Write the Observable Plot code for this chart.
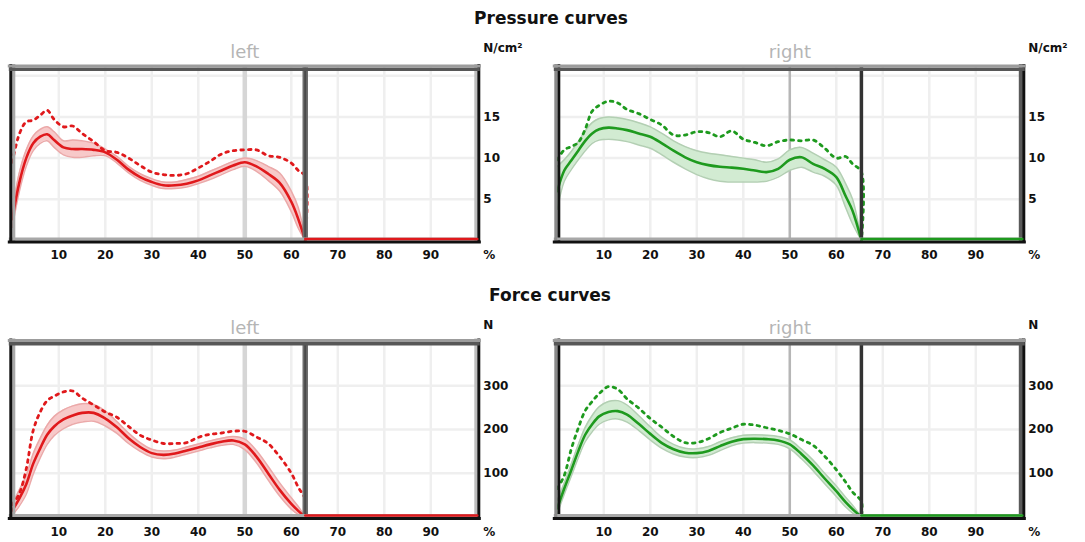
<!DOCTYPE html>
<html>
<head>
<meta charset="utf-8">
<script src="https://cdn.jsdelivr.net/npm/d3@7"></script>
<script src="https://cdn.jsdelivr.net/npm/@observablehq/plot@0.6"></script>
<style>
  html, body { margin: 0; padding: 0; background: #fff; }
  #wrap { position: relative; width: 1085px; height: 542px; overflow: hidden; background: #fff; }
  .title { position: absolute; width: 300px; text-align: center; font-family: "DejaVu Sans", sans-serif; font-weight: bold; font-size: 17px; line-height: 20px; color: #111; }
  .panel { position: absolute; }
</style>
</head>
<body>
<div id="wrap">
  <div class="title" style="left:401px; top:8px;">Pressure curves</div>
  <div class="title" style="left:400px; top:285px;">Force curves</div>
  <div class="panel" id="p1" style="left:0px; top:0px;"></div>
  <div class="panel" id="p2" style="left:545px; top:0px;"></div>
  <div class="panel" id="p3" style="left:0px; top:280px;"></div>
  <div class="panel" id="p4" style="left:545px; top:280px;"></div>
</div>
<script>
// ---------- data (percent of gait cycle) ----------
const xTicks = [10, 20, 30, 40, 50, 60, 70, 80, 90];
const pressureTicks = [5, 10, 15];
const pressureGrid = [5, 10, 15, 20];
const forceTicks = [100, 200, 300];
const forceGrid = [100, 200, 300];
const sideLabels = ["left", "right"];
const unitPressure = "N/cm²";
const unitForce = "N";
const pctUnit = "%";
const midMark = 50;

const xLeft  = [0,1.5,3,4.5,6,7.5,9,11,13,15,17.5,20,22.5,25,27.5,30,32.5,35,37.5,40,42.5,45,47.5,50,52.5,55,57.5,60,61.5,63];
const xRight = [0,1.5,3,4.5,6,7.5,9,11,13,15,17.5,20,22.5,25,27.5,30,32.5,35,37.5,40,42.5,45,47.5,50,52.5,55,57.5,60,62,63.5,65.4];

// Pressure, left
const pressLeftMean = [2.6,7.0,10.0,11.8,12.6,12.9,12.2,11.3,11.1,11.1,11.0,10.7,9.8,8.6,7.7,7.1,6.7,6.7,6.9,7.3,7.9,8.5,9.1,9.5,9.0,8.1,7.0,4.7,2.6,0];
const pressLeftHi   = [3.6,8.2,11.0,12.7,13.5,13.8,13.2,12.1,12.2,12.1,11.8,11.1,10.2,9.0,8.1,7.5,7.1,7.1,7.4,7.8,8.4,9.0,9.6,10.0,9.7,9.0,8.2,6.0,4.0,0];
const pressLeftLo   = [1.6,5.9,9.0,10.9,11.8,12.1,11.3,10.4,10.1,10.1,10.3,10.3,9.4,8.2,7.3,6.7,6.3,6.3,6.5,6.9,7.4,8.0,8.6,9.0,8.4,7.3,6.0,3.5,1.5,0];
const pressLeftMax  = [9.5,12.9,14.4,14.6,15.2,15.8,14.7,13.8,13.9,13.0,12.0,10.9,10.7,10.0,9.1,8.3,8.0,7.9,8.1,8.8,9.6,10.5,10.9,11.0,11.0,10.3,10.1,9.4,8.5,7.8];

// Pressure, right
const pressRightMean = [6.0,8.5,9.7,10.9,12.1,13.0,13.5,13.7,13.6,13.4,13.0,12.6,11.8,10.9,10.1,9.5,9.15,8.95,8.85,8.7,8.5,8.3,8.7,9.8,10.1,9.3,8.7,7.7,5.4,3.6,0];
const pressRightHi   = [9.0,9.8,10.8,12.0,13.3,14.3,14.8,15.0,14.9,14.7,14.3,13.8,13.0,12.1,11.4,10.9,10.6,10.4,10.2,10.0,9.8,9.5,9.9,11.0,11.3,10.6,9.8,8.9,6.9,5.0,0];
const pressRightLo   = [3.8,7.2,8.6,9.8,10.9,11.8,12.2,12.3,12.2,12.0,11.6,11.2,10.4,9.5,8.7,8.0,7.5,7.2,7.1,7.1,7.1,7.2,7.7,8.5,8.9,8.3,7.8,6.7,4.0,2.0,0];
const pressRightMax  = [9.8,11.0,11.4,11.9,13.5,15.7,16.4,16.9,16.7,15.9,15.4,14.7,14.0,12.8,12.8,13.2,13.1,12.6,13.3,12.3,11.9,11.5,12.0,12.2,12.1,12.2,11.2,10.0,10.2,9.3,8.3];

// Force, left
const forceLeftMean = [15,42,75,122,157,188,207,223,232,238,238,225,205,180,160,146,142,145,152,159,166,172,175,166,138,100,62,30,14,0];
const forceLeftHi   = [30,62,95,145,180,210,230,245,254,259,257,242,218,192,170,155,151,153,160,167,174,180,184,178,152,116,78,44,24,0];
const forceLeftLo   = [4,25,52,98,135,166,186,202,212,217,219,208,191,168,150,137,133,137,144,151,158,164,166,154,124,85,48,18,6,0];
const forceLeftMax  = [28,53,110,198,240,266,276,286,288,272,256,240,228,207,187,176,168,168,170,182,189,192,196,196,183,168,138,100,68,40];

// Force, right
const forceRightMean = [20,65,107,150,188,212,230,240,242,234,213,190,169,155,147,146,151,162,172,178,179,178,175,166,144,118,88,59,34,18,0];
const forceRightHi   = [38,78,121,165,205,232,252,264,266,256,232,206,182,166,157,156,161,172,181,187,188,187,184,176,155,130,100,71,45,27,0];
const forceRightLo   = [8,52,93,135,172,195,212,222,224,217,198,176,157,144,137,136,141,152,163,169,170,169,166,156,133,106,76,47,23,9,0];
const forceRightMax  = [65,95,155,203,243,264,282,298,292,270,249,225,205,184,170,170,179,193,203,212,210,204,198,190,177,164,139,108,80,57,35];

// ---------- styles ----------
const RED = {line: "#e0191c", fill: "#f7c9c9", edge: "#eba9a9"};
const GREEN = {line: "#1e9a1e", fill: "#d2ebd2", edge: "#b3cfb3"};

function edges(yMax, st) {
  const ext = -3;
  return [
    Plot.ruleX([0],   {stroke: st.lIn,  strokeWidth: 3, dx: 1.5,  insetTop: ext, insetBottom: ext}),
    Plot.ruleX([100], {stroke: st.rIn,  strokeWidth: st.rInW || 3, dx: -1.5, insetTop: ext, insetBottom: ext}),
    Plot.ruleY([0],   {stroke: st.bIn,  strokeWidth: 3, dy: -1.5, insetLeft: ext, insetRight: ext}),
    Plot.ruleX([0],   {stroke: st.lOut, strokeWidth: 3, dx: -1.5, insetTop: ext, insetBottom: ext}),
    Plot.ruleX([100], {stroke: st.rOut, strokeWidth: 3, dx: 1.5,  insetTop: ext, insetBottom: ext}),
    Plot.ruleY([0],   {stroke: st.bOut, strokeWidth: 3, dy: 1.5,  insetLeft: ext - 1, insetRight: ext - 1}),
    Plot.ruleY([yMax],{stroke: st.tIn,  strokeWidth: 3.5, dy: 1.75, insetLeft: ext, insetRight: ext}),
    Plot.ruleY([yMax],{stroke: st.tOut, strokeWidth: 3, dy: -1.5, insetLeft: ext - 1, insetRight: ext - 1})
  ];
}

const frameLeft  = {lOut: "#111", lIn: "#a8a8a8", rOut: "#111", rIn: "#bdbdbd", bOut: "#111", bIn: "#a8a8a8", tOut: "#9c9c9c", tIn: "#575757"};
const frameRight = {lOut: "#8a8a8a", lIn: "#111", rOut: "#111", rIn: "#5a5a5a", rInW: 4, bOut: "#111", bIn: "#a8a8a8", tOut: "#9c9c9c", tIn: "#575757"};

function panel(cfg) {
  const rows = cfg.x.map((v, i) => ({x: v, mean: cfg.mean[i], lo: cfg.lo[i], hi: cfg.hi[i]}));
  const end = cfg.x[cfg.x.length - 1];
  const maxRows = cfg.x.map((v, i) => ({x: v, y: cfg.max[i]})).concat([{x: end, y: 0}]);
  const flat = [{x: end, y: 0}, {x: 100, y: 0}];
  const c = cfg.color;
  const isLeft = cfg.side === sideLabels[0];
  return Plot.plot({
    width: 540,
    height: cfg.height,
    marginLeft: 11.8,
    marginRight: 63.2,
    marginTop: cfg.marginTop,
    marginBottom: cfg.marginBottom,
    x: {domain: [0, 100], ticks: xTicks, tickSize: 0, tickPadding: 10, label: null, tickFormat: d => String(d)},
    y: {domain: [0, cfg.yMax], axis: "right", ticks: cfg.yTicks, tickSize: 0, tickPadding: 6, label: null, tickFormat: d => String(d)},
    style: {fontFamily: "DejaVu Sans, sans-serif", fontSize: "12px", fontWeight: "bold", color: "#111", background: "transparent", overflow: "visible"},
    marks: [
      Plot.ruleX(xTicks, {stroke: "#efefef", strokeWidth: 2.5}),
      Plot.ruleY(cfg.yGrid, {stroke: "#efefef", strokeWidth: 2.5}),
      Plot.ruleX([midMark], {stroke: isLeft ? "#d6d6d6" : "#b6b6b6", strokeWidth: isLeft ? 4.5 : 2.5}),
      Plot.areaY(rows, {x: "x", y1: "lo", y2: "hi", fill: c.fill, curve: "catmull-rom"}),
      Plot.line(rows, {x: "x", y: "hi", stroke: c.edge, strokeWidth: 1.5, curve: "catmull-rom"}),
      Plot.line(rows, {x: "x", y: "lo", stroke: c.edge, strokeWidth: 1.5, curve: "catmull-rom"}),
      Plot.line(maxRows, {x: "x", y: "y", stroke: c.line, strokeWidth: 2.8, strokeDasharray: "2.6 5", curve: "catmull-rom"}),
      Plot.line(rows, {x: "x", y: "mean", stroke: c.line, strokeWidth: 2.6, curve: "catmull-rom"}),
      isLeft
        ? Plot.ruleX([end], {stroke: "#6e6e6e", strokeWidth: 5.5})
        : Plot.ruleX([end], {stroke: "#333", strokeWidth: 3.5}),
      isLeft ? Plot.ruleX([end], {stroke: "#4a4a4a", strokeWidth: 2}) : null,
      ...edges(cfg.yMax, isLeft ? frameLeft : frameRight),
      Plot.line(flat, {x: "x", y: "y", stroke: c.line, strokeWidth: 2.5, dy: -1.5}),
      Plot.text([cfg.side], {x: () => midMark, frameAnchor: "top", dy: cfg.sideDy, fill: "#b5b5b5", fontSize: 18, fontWeight: "normal", lineAnchor: "middle"}),
      Plot.text([cfg.unit], {frameAnchor: "top-right", dx: 6, dy: cfg.unitDy, textAnchor: "start", lineAnchor: "middle", fill: "#111"}),
      Plot.text([pctUnit], {frameAnchor: "bottom-right", dx: 6, dy: 15, textAnchor: "start", lineAnchor: "middle", fill: "#111"})
    ]
  });
}

const topCfg = {height: 270, marginTop: 67, marginBottom: 30, yMax: 21, yTicks: pressureTicks, yGrid: pressureGrid, unit: unitPressure, sideDy: -15, unitDy: -19};
const botCfg = {height: 262, marginTop: 61.5, marginBottom: 25.5, yMax: 400, yTicks: forceTicks, yGrid: forceGrid, unit: unitForce, sideDy: -14, unitDy: -17};

document.getElementById("p1").appendChild(panel({...topCfg, side: sideLabels[0], color: RED, x: xLeft, mean: pressLeftMean, lo: pressLeftLo, hi: pressLeftHi, max: pressLeftMax}));
document.getElementById("p2").appendChild(panel({...topCfg, side: sideLabels[1], color: GREEN, x: xRight, mean: pressRightMean, lo: pressRightLo, hi: pressRightHi, max: pressRightMax}));
document.getElementById("p3").appendChild(panel({...botCfg, side: sideLabels[0], color: RED, x: xLeft, mean: forceLeftMean, lo: forceLeftLo, hi: forceLeftHi, max: forceLeftMax}));
document.getElementById("p4").appendChild(panel({...botCfg, side: sideLabels[1], color: GREEN, x: xRight, mean: forceRightMean, lo: forceRightLo, hi: forceRightHi, max: forceRightMax}));
</script>
</body>
</html>
